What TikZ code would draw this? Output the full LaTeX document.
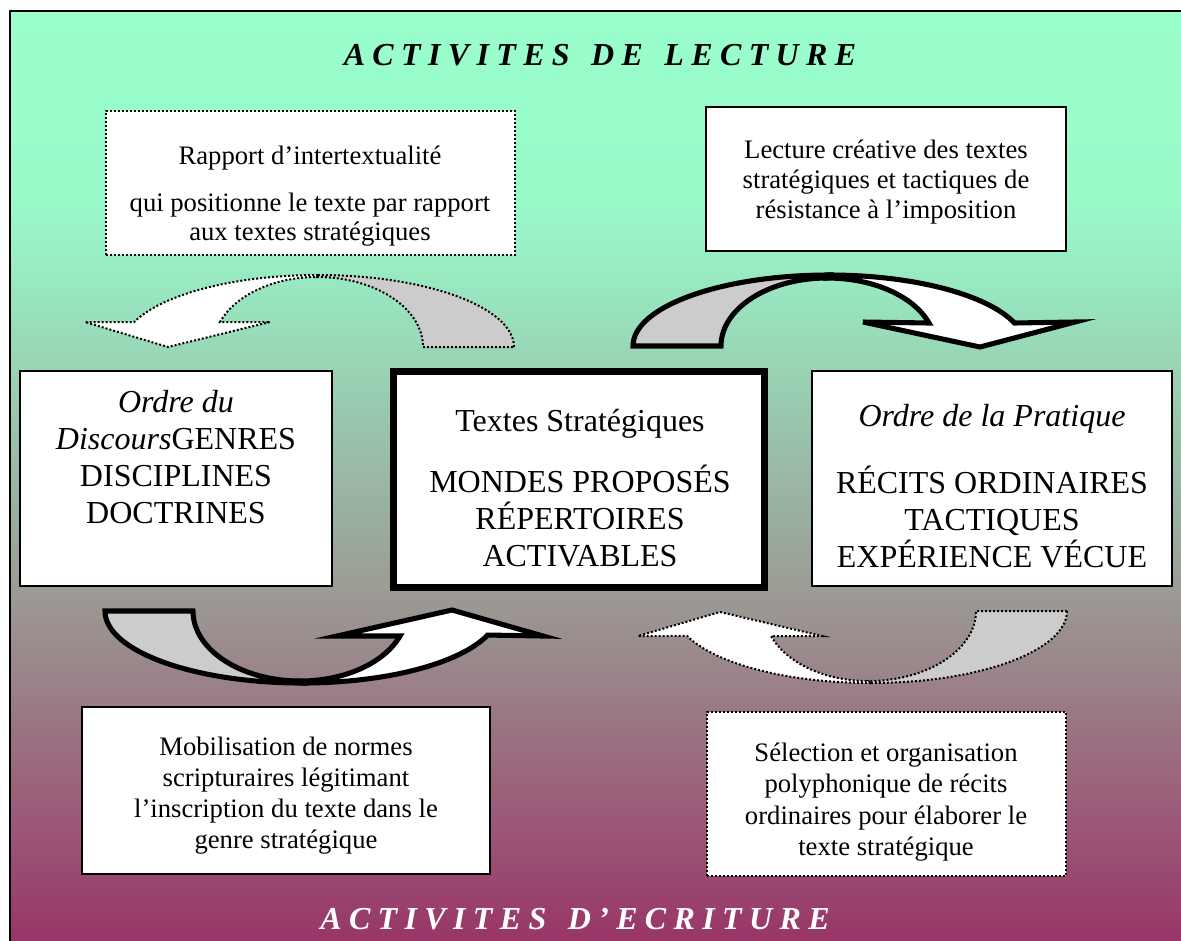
\documentclass[tikz,border=0pt]{standalone}
\usepackage{fontspec}
\setmainfont{Liberation Serif}
\usetikzlibrary{fit}
\definecolor{bgtop}{RGB}{153,255,204}
\definecolor{bgtwo}{RGB}{153,250,202}
\definecolor{bgthree}{RGB}{152,228,190}
\definecolor{bgmid}{RGB}{155,153,147}
\definecolor{bgbot}{RGB}{153,51,102}
\definecolor{tailgray}{RGB}{204,204,204}
\pgfdeclareverticalshading{bgshade}{100bp}{color(0bp)=(bgbot); color(25bp)=(bgbot); color(43.6bp)=(bgmid); color(59.6bp)=(bgthree); color(64.9bp)=(bgtwo); color(75bp)=(bgtop); color(100bp)=(bgtop)}
\newcommand\lsp{\hspace{0.23em}}
\newcommand\wsp{\hspace{0.67em}}
\tikzset{
  thinbox/.style={draw=black, line width=1.2pt, fill=white, inner sep=0pt},
  dotbox/.style={draw=black, line width=1.5pt, dash pattern=on 1.5pt off 1.5pt, fill=white, inner sep=0pt},
  thickbox/.style={draw=black, line width=5.25pt, fill=white, inner sep=0pt},
  dotarrow/.style={draw=black, line width=1.5pt, dash pattern=on 1.5pt off 1.5pt, line join=miter},
  thickarrow/.style={draw=black, line width=3.8pt, line join=miter},
  smalltext/.style={align=center, inner sep=0pt, font=\fontsize{20}{22.2}\selectfont},
  bigtext/.style={align=center, inner sep=0pt, font=\fontsize{24}{27.75}\selectfont},
  titletext/.style={inner sep=0pt, font=\fontsize{24}{28}\selectfont\bfseries\itshape}
}
\begin{document}
\begin{tikzpicture}[x=0.75pt,y=-0.75pt]
\useasboundingbox (0,0) rectangle (1181,940);
% background
\shade[shading=bgshade] (10,11) rectangle (1195,950);
\draw[line width=1.2pt] (10,955) -- (10,11) -- (1195,11);

% titles
\node[titletext, text=black] (titletop) at (600,55) {A\lsp C\lsp T\lsp I\lsp V\lsp I\lsp T\lsp E\lsp S\wsp D\lsp E\wsp L\lsp E\lsp C\lsp T\lsp U\lsp R\lsp E};
\node[titletext, text=white] (titlebot) at (575,919) {A\lsp C\lsp T\lsp I\lsp V\lsp I\lsp T\lsp E\lsp S\wsp D\lsp ’\lsp E\lsp C\lsp R\lsp I\lsp T\lsp U\lsp R\lsp E};

% boxes
\node[dotbox, fit={(106,111) (515,255)}] (tl) {};
\node[thinbox, fit={(706,107) (1066,251)}] (tr) {};
\node[thinbox, fit={(20,371) (332,586)}] (left) {};
\node[thickbox, fit={(393.5,371) (764.5,587)}] (center) {};
\node[thinbox, fit={(812,371) (1172,586)}] (right) {};
\node[thinbox, fit={(82,707) (490,874)}] (bl) {};
\node[dotbox, fit={(707,712) (1066,876)}] (br) {};

% texts
\node[smalltext] (tltxt) at (310,196) {Rapport d’intertextualité\\[13pt]qui positionne le texte par rapport\\aux textes stratégiques};
\node[smalltext] (trtxt) at (886,182) {Lecture créative des textes\\stratégiques et tactiques de\\résistance à l’imposition};
\node[bigtext] (lefttxt) at (176,457) {\textit{Ordre du}\\\textit{Discours}GENRES\\DISCIPLINES\\DOCTRINES};
\node[bigtext] (centertxt) at (580,488) {Textes Stratégiques\\[18pt]MONDES PROPOSÉS\\RÉPERTOIRES\\ACTIVABLES};
\node[bigtext] (righttxt) at (992,486) {\textit{Ordre de la Pratique}\\[22pt]RÉCITS ORDINAIRES\\TACTIQUES\\EXPÉRIENCE VÉCUE};
\node[smalltext, font=\fontsize{20}{23.25}\selectfont] (bltxt) at (286,796) {Mobilisation de normes\\scripturaires légitimant\\l’inscription du texte dans le\\genre stratégique};
\node[smalltext, font=\fontsize{20}{23.5}\selectfont] (brtxt) at (886,802) {Sélection et organisation\\polyphonique de récits\\ordinaires pour élaborer le\\texte stratégique};

% arrow 1: top-left, dotted, pointing left-down
\filldraw[dotarrow, fill=tailgray] (514,347) arc[start angle=0, end angle=-90, x radius=196, y radius=72] -- (317,277) arc[start angle=-90, end angle=0, x radius=106, y radius=70] -- cycle;
\filldraw[dotarrow, fill=white] (318,275) arc[start angle=-90, end angle=-159.7, x radius=196, y radius=72] -- (85,322) -- (168,347) -- (270,322) -- (220,322) arc[start angle=-159.1, end angle=-90, x radius=104, y radius=70] -- cycle;

% arrow 2: top-right, thick, pointing right-down
\filldraw[thickarrow, fill=tailgray] (633,346) arc[start angle=180, end angle=270, x radius=196, y radius=71] -- (827,278) arc[start angle=270, end angle=180, x radius=106, y radius=68] -- cycle;
\filldraw[thickarrow, fill=white] (829,275) arc[start angle=-90, end angle=-18.9, x radius=196, y radius=71] -- (1075,322) -- (980,347) -- (863,322) -- (929,323) arc[start angle=-19.8, end angle=-90, x radius=108, y radius=68] -- cycle;

% arrow 3: bottom-left, thick, pointing right-up
\filldraw[thickarrow, fill=tailgray] (105,611) arc[start angle=180, end angle=90, x radius=197, y radius=72] -- (300,681) arc[start angle=90, end angle=180, x radius=107, y radius=70] -- cycle;
\filldraw[thickarrow, fill=white] (302,683) arc[start angle=90, end angle=19.5, x radius=197, y radius=72] -- (543,636) -- (452,610) -- (337,636) -- (400,636) arc[start angle=20.9, end angle=90, x radius=107, y radius=70] -- cycle;

% arrow 4: bottom-right, dotted, pointing left-up
\filldraw[dotarrow, fill=tailgray] (1067,611) arc[start angle=0, end angle=90, x radius=196, y radius=72] -- (868,681) arc[start angle=90, end angle=0, x radius=108, y radius=70] -- cycle;
\filldraw[dotarrow, fill=white] (871,683) arc[start angle=90, end angle=159.7, x radius=196, y radius=72] -- (638,636) -- (720,612) -- (822,636) -- (771,636) arc[start angle=159.1, end angle=90, x radius=104, y radius=70] -- cycle;
\end{tikzpicture}
\end{document}
